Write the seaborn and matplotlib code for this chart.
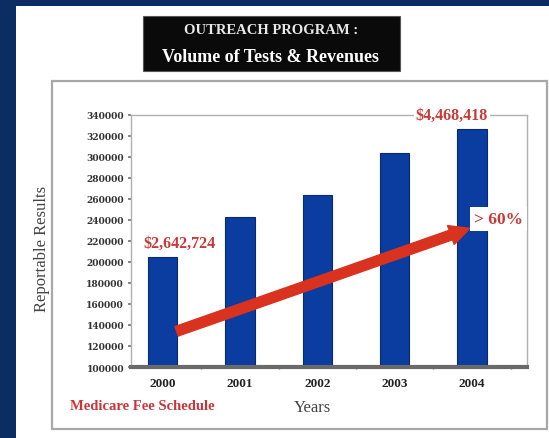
import matplotlib
matplotlib.use("Agg")
import matplotlib.pyplot as plt
from matplotlib.patches import Rectangle
import seaborn as sns
import pandas as pd

# ---- data ----
years = ["2000", "2001", "2002", "2003", "2004"]
results = [205000, 243000, 264000, 304000, 327000]
y_ticks = [100000, 120000, 140000, 160000, 180000, 200000, 220000, 240000,
           260000, 280000, 300000, 320000, 340000]
revenue_labels = ["$2,642,724", "$4,468,418"]
growth_label = "> 60%"
trend_start = (0.18, 134000)
trend_end = (3.97, 232000)

sns.set_theme(style="white")
plt.rcParams["font.family"] = ["Liberation Serif", "DejaVu Serif"]

W, H = 549, 439
fig = plt.figure(figsize=(W / 100, H / 100), dpi=100)
fig.patch.set_facecolor("#0b2d63")

def fx(px):
    return px / W

def fy(py):
    return 1 - py / H

# white panel
fig.add_artist(Rectangle((fx(16), 0), 1 - fx(16), fy(7), transform=fig.transFigure,
                         facecolor="white", edgecolor="none", zorder=-3))
# inner gray box
fig.add_artist(Rectangle((fx(52), fy(430)), fx(547) - fx(52), fy(82) - fy(430),
                         transform=fig.transFigure, facecolor="none",
                         edgecolor="#a8a8a8", linewidth=1.6, zorder=-2))
# black title box
fig.add_artist(Rectangle((fx(143), fy(72)), fx(400) - fx(143), fy(17) - fy(72),
                         transform=fig.transFigure, facecolor="#0a0a0a",
                         edgecolor="#555555", linewidth=0.8, zorder=1))
fig.text(fx(271), fy(31), "OUTREACH PROGRAM :", color="#e8e8e8", fontsize=10.5,
         fontweight="bold", ha="center", va="center", zorder=2)
fig.text(fx(271), fy(57), "Volume of Tests & Revenues", color="white", fontsize=13,
         fontweight="bold", ha="center", va="center", zorder=2)

ax = fig.add_axes([fx(131), fy(368), fx(527) - fx(131), fy(116) - fy(368)])
ax.set_facecolor("white")

df = pd.DataFrame({"Year": years, "Results": results})
sns.barplot(data=df, x="Year", y="Results", color="#0a3d9f", width=0.38,
            saturation=1, edgecolor="#072a75", linewidth=0.8, ax=ax, zorder=2)

ax.set_xlim(-0.41, 4.71)
ax.set_ylim(100000, 340000)
ax.set_yticks(y_ticks)
ax.set_yticklabels([str(v) for v in y_ticks], fontsize=6.6, fontweight="bold",
                   color="#333333", family="DejaVu Serif")
ax.set_xticks(range(len(years)))
ax.set_xticklabels(years, fontsize=9.5, fontweight="bold", color="#222222")
ax.set_xticks([0.5, 1.5, 2.5, 3.5, 4.5], minor=True)
ax.tick_params(axis="x", which="major", length=0, pad=7)
ax.tick_params(axis="x", which="minor", length=3, color="#666666", direction="inout",
               bottom=True)
ax.tick_params(axis="y", which="major", length=2, color="#777777", left=True, pad=3)
ax.set_xlabel("")
ax.set_ylabel("")

for side in ["left", "top", "right"]:
    ax.spines[side].set_visible(True)
    ax.spines[side].set_color("#b0b0b0")
    ax.spines[side].set_linewidth(1.0)
ax.spines["bottom"].set_color("#6a6a6a")
ax.spines["bottom"].set_linewidth(3)

# trend arrow
ax.annotate("", xy=trend_end, xytext=trend_start,
            arrowprops=dict(arrowstyle="simple,head_width=1.2,head_length=1.2,tail_width=0.6",
                            color="#d9331f", shrinkA=0, shrinkB=0), zorder=4)

ax.text(0.22, 218600, revenue_labels[0], color="#c83a3a", fontsize=11.5,
        fontweight="bold", ha="center", va="center", zorder=5,
        bbox=dict(facecolor="white", edgecolor="none", pad=0.5))
ax.text(3.74, 340000, revenue_labels[1], color="#c83a3a", fontsize=11.5,
        fontweight="bold", ha="center", va="center", zorder=5, clip_on=False,
        bbox=dict(facecolor="white", edgecolor="none", pad=1.0))
ax.text(4.34, 241000, growth_label, color="#c83a3a", fontsize=12.5,
        fontweight="bold", ha="center", va="center", zorder=5,
        bbox=dict(facecolor="white", edgecolor="none", pad=3))

fig.text(fx(42), fy(249), "Reportable Results", rotation=90, color="#444444",
         fontsize=12, ha="center", va="center")
fig.text(fx(312), fy(408), "Years", color="#444444", fontsize=12,
         ha="center", va="center")
fig.text(fx(70), fy(407), "Medicare Fee Schedule", color="#c8363a", fontsize=10.5,
         fontweight="bold", ha="left", va="center")

fig.savefig("out.png", dpi=100, facecolor=fig.get_facecolor())
